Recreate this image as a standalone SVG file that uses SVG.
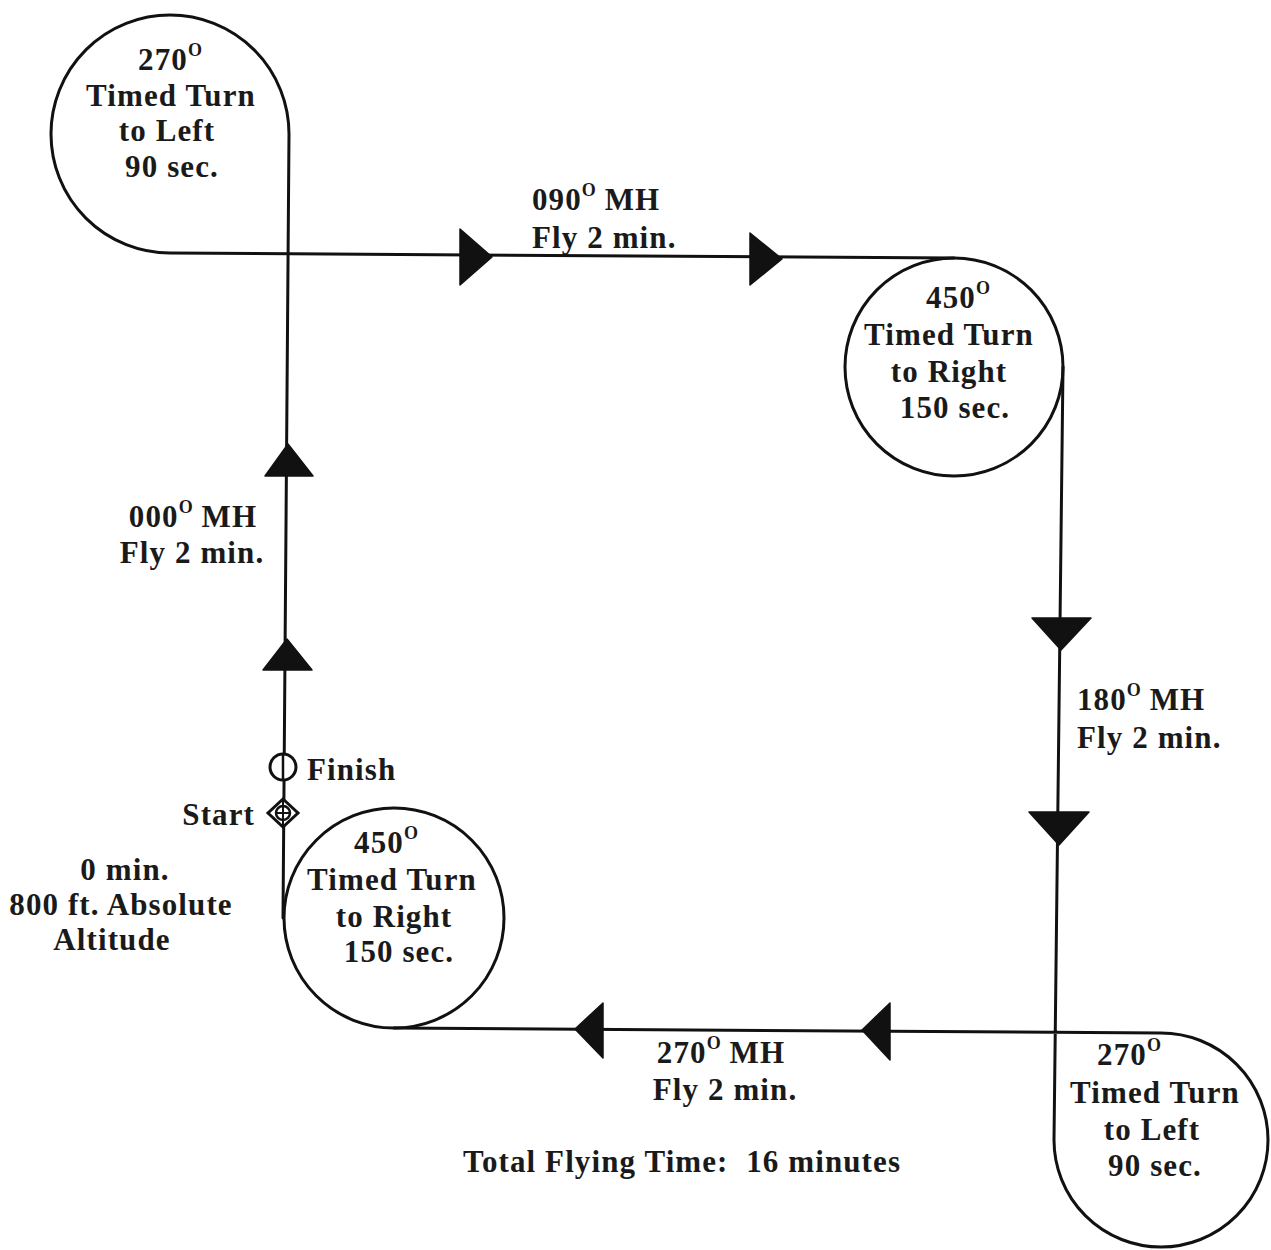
<svg xmlns="http://www.w3.org/2000/svg" width="1271" height="1250" viewBox="0 0 1271 1250">
<style>
text{font-family:"Liberation Serif","Times New Roman",serif;font-weight:bold;font-size:31px;letter-spacing:1.1px;fill:#1a1a1a}
.c{text-anchor:middle}
.e{text-anchor:end}
.sup{font-size:18px;letter-spacing:0}
.ln{fill:none;stroke:#111;stroke-width:3;stroke-linecap:round;stroke-linejoin:round}
.ar{fill:#111;stroke:#111;stroke-width:1.5;stroke-linejoin:round}
.mk{fill:#fff;stroke:#111;stroke-width:3}
</style>
<rect width="1271" height="1250" fill="#fff"/>
<g id="connectors">
<path class="ln" d="M283,918 L289,134 A119,119 0 1 0 170,253 L954,258"/>
<path class="ln" d="M1063,367 L1054,1140 A107,107 0 1 0 1161,1033 L394,1028"/>
<polygon class="ar" points="288,444 265,476 313,476"/>
<polygon class="ar" points="287,639 263,670 312,670"/>
<polygon class="ar" points="492,257 460,229 460,285"/>
<polygon class="ar" points="782,259 750,233 750,285"/>
<polygon class="ar" points="1061,650 1032,618 1091,618"/>
<polygon class="ar" points="1059,845 1029,812 1089,812"/>
<polygon class="ar" points="575,1029 603,1003 603,1058"/>
<polygon class="ar" points="862,1030 890,1003 890,1060"/>
</g>
<g id="turn-270-left-top">
<text class="c" x="170" y="70">270<tspan class="sup" dy="-14">O</tspan></text>
<text class="c" x="171" y="106">Timed Turn</text>
<text class="c" x="167" y="141">to Left</text>
<text class="c" x="172" y="177">90 sec.</text>
</g>
<g id="turn-450-right-top">
<circle class="ln" cx="954" cy="367" r="109"/>
<text class="c" x="958" y="308">450<tspan class="sup" dy="-14">O</tspan></text>
<text class="c" x="949" y="345">Timed Turn</text>
<text class="c" x="949" y="382">to Right</text>
<text class="c" x="955" y="418">150 sec.</text>
</g>
<g id="turn-270-left-bottom">
<text class="c" x="1129" y="1065">270<tspan class="sup" dy="-14">O</tspan></text>
<text class="c" x="1155" y="1103">Timed Turn</text>
<text class="c" x="1152" y="1140">to Left</text>
<text class="c" x="1155" y="1176">90 sec.</text>
</g>
<g id="turn-450-right-bottom">
<circle class="ln" cx="394" cy="918" r="110"/>
<text class="c" x="386" y="853">450<tspan class="sup" dy="-14">O</tspan></text>
<text class="c" x="392" y="890">Timed Turn</text>
<text class="c" x="394" y="927">to Right</text>
<text class="c" x="399" y="962">150 sec.</text>
</g>
<g id="leg-090">
<text x="532" y="210">090<tspan class="sup" dy="-14">O</tspan><tspan dy="14"> MH</tspan></text>
<text x="532" y="248">Fly 2 min.</text>
</g>
<g id="leg-000">
<text class="c" x="193" y="527">000<tspan class="sup" dy="-14">O</tspan><tspan dy="14"> MH</tspan></text>
<text class="c" x="192" y="563">Fly 2 min.</text>
</g>
<g id="leg-180">
<text x="1077" y="710">180<tspan class="sup" dy="-14">O</tspan><tspan dy="14"> MH</tspan></text>
<text x="1077" y="748">Fly 2 min.</text>
</g>
<g id="leg-270">
<text class="c" x="721" y="1063">270<tspan class="sup" dy="-14">O</tspan><tspan dy="14"> MH</tspan></text>
<text class="c" x="725" y="1100">Fly 2 min.</text>
</g>
<g id="finish">
<circle class="mk" cx="283" cy="767" r="13"/>
<line x1="283" y1="754" x2="283" y2="780" stroke="#111" stroke-width="2.5"/>
<text x="307" y="780">Finish</text>
</g>
<g id="start">
<polygon class="mk" points="283,799 298,813 283,827 268,813"/>
<circle cx="283" cy="813" r="7" fill="none" stroke="#111" stroke-width="2.5"/>
<line x1="276" y1="813" x2="290" y2="813" stroke="#111" stroke-width="2"/>
<line x1="283" y1="799" x2="283" y2="827" stroke="#111" stroke-width="2"/>
<text class="e" x="255" y="825">Start</text>
</g>
<g id="start-info">
<text class="c" x="125" y="880">0 min.</text>
<text class="c" x="121" y="915">800 ft. Absolute</text>
<text class="c" x="112" y="950">Altitude</text>
</g>
<g id="total">
<text x="463" y="1172" xml:space="preserve">Total Flying Time:  16 minutes</text>
</g>
</svg>
